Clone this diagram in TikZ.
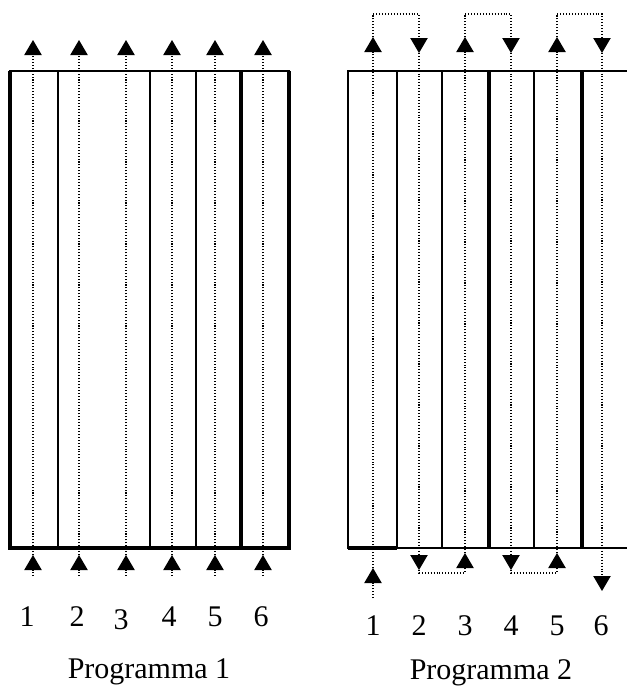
\documentclass[tikz,border=0pt]{standalone}
\usepackage{fontspec}
\setmainfont{Liberation Serif}
\usetikzlibrary{arrows.meta}

\begin{document}
\begin{tikzpicture}[
            x=0.03cm, y=-0.03cm,
            every node/.style={font=\fontsize{25.6}{30}\selectfont, inner sep=0pt},
            frame/.style={line width=1.3pt, draw=black},
            thickline/.style={line width=2.6pt, draw=black},
            flow/.style={-{Triangle[length=4.5mm, width=5.2mm]}, line width=0.9pt,
                         dash pattern=on 0.9pt off 1.6pt},
            lab/.style={anchor=base}
        ]
        \useasboundingbox (0,0) rectangle (627,686);

        %---------------- Programma 1 ----------------%
        \draw[frame] (10,71) rectangle (289,548);
        \foreach \x in {58,150,196}
            \draw[frame] (\x,71) -- (\x,548);
        \draw[thickline] (241,71) -- (241,548);
        \draw[thickline] (10,71) -- (10,548) -- (289,548) -- (289,71);

        \foreach \c/\x in {1/33,2/79,3/126,4/172,5/215,6/263} {
            \coordinate (l\c s) at (\x,576);
            \coordinate (l\c b) at (\x,555);
            \coordinate (l\c t) at (\x,40);
            \draw[flow] (l\c s) -- (l\c b);
            \draw[flow] (l\c b) -- (l\c t);
        }

        \node[lab] (n1) at (27,626) {1};
        \node[lab] (n2) at (77,626) {2};
        \node[lab] (n3) at (121,629) {3};
        \node[lab] (n4) at (169,626) {4};
        \node[lab] (n5) at (215,626) {5};
        \node[lab] (n6) at (261,626) {6};
        \node[lab] (prog1) at (149,678) {Programma 1};

        %---------------- Programma 2 ----------------%
        \draw[frame] (627,71) -- (348,71) -- (348,548) -- (627,548);
        \foreach \x in {397,442,534}
            \draw[frame] (\x,71) -- (\x,548);
        \draw[thickline] (489,71) -- (489,548);
        \draw[thickline] (582,71) -- (582,548);
        \draw[thickline] (348,548) -- (397,548);

        % columns: t = top tip, b = bottom tip, c = top corner, d = bottom corner
        \foreach \c/\x in {1/373,3/465,5/557} {
            \coordinate (r\c t) at (\x,37);
            \coordinate (r\c b) at (\x,553);
            \coordinate (r\c c) at (\x,14);
            \coordinate (r\c d) at (\x,573);
        }
        \foreach \c/\x in {2/419,4/511,6/602} {
            \coordinate (r\c t) at (\x,53);
            \coordinate (r\c b) at (\x,570);
            \coordinate (r\c c) at (\x,14);
            \coordinate (r\c d) at (\x,573);
        }
        \coordinate (r1s) at (373,598);
        \coordinate (r1b) at (373,568);
        \coordinate (r6e) at (602,591);

        \draw[flow] (r1s) -- (r1b);
        \draw[flow] (r1b) -- (r1t);
        \draw[flow] (r1t) -- (r1c) -- (r2c) -- (r2t);
        \draw[flow] (r2t) -- (r2b);
        \draw[flow] (r2b) -- (r2d) -- (r3d) -- (r3b);
        \draw[flow] (r3b) -- (r3t);
        \draw[flow] (r3t) -- (r3c) -- (r4c) -- (r4t);
        \draw[flow] (r4t) -- (r4b);
        \draw[flow] (r4b) -- (r4d) -- (r5d) -- (r5b);
        \draw[flow] (r5b) -- (r5t);
        \draw[flow] (r5t) -- (r5c) -- (r6c) -- (r6t);
        \draw[flow] (r6t) -- (r6e);

        \node[lab] (m1) at (373,635) {1};
        \node[lab] (m2) at (419,635) {2};
        \node[lab] (m3) at (465,635) {3};
        \node[lab] (m4) at (511,635) {4};
        \node[lab] (m5) at (557,635) {5};
        \node[lab] (m6) at (601,635) {6};
        \node[lab] (prog2) at (491,679) {Programma 2};

        \end{tikzpicture}
\end{document}
